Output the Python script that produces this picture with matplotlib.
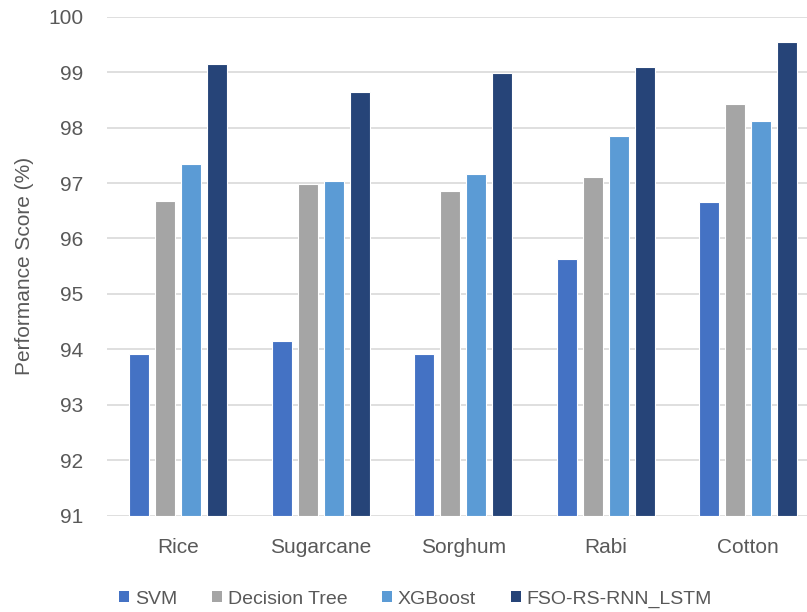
import numpy as np
import matplotlib.pyplot as plt
from matplotlib.patches import Patch

crops = ['Rice', 'Sugarcane', 'Sorghum', 'Rabi', 'Cotton']
svm = [93.92, 94.15, 93.92, 95.63, 96.66]
decision_tree = [96.68, 96.98, 96.85, 97.11, 98.43]
xgboost = [97.34, 97.03, 97.17, 97.84, 98.12]
fso_rs_rnn_lstm = [99.15, 98.64, 98.99, 99.10, 99.54]

series_names = ['SVM', 'Decision Tree', 'XGBoost', 'FSO-RS-RNN_LSTM']
colors = ['#4472C4', '#A5A5A5', '#5B9BD5', '#264478']

plt.rcParams['font.family'] = ['Liberation Sans', 'DejaVu Sans']

fig = plt.figure(figsize=(8.07, 6.12), dpi=100)
ax = fig.add_axes([107 / 807, 1 - 515.7 / 612, 712.5 / 807, 499 / 612])

x = np.arange(len(crops))
pitch = 0.1825
width = 0.137
for i, (name, vals) in enumerate(zip(series_names, [svm, decision_tree, xgboost, fso_rs_rnn_lstm])):
    ax.bar(x + (i - 1.5) * pitch, [v - 91 for v in vals], width, bottom=91,
           color=colors[i], edgecolor='white', linewidth=0.8, label=name, zorder=3)

ax.set_xlim(-0.5, 4.5)
ax.set_ylim(91, 100)
ax.set_yticks(range(91, 101))
ax.set_xticks(x)
ax.set_xticklabels(crops)
ax.tick_params(axis='both', length=0, labelsize=15, labelcolor='#595959')
ax.tick_params(axis='x', pad=16)
ax.tick_params(axis='y', pad=17)
ax.grid(axis='y', color='#D9D9D9', linewidth=1.2, zorder=0)
for s in ax.spines.values():
    s.set_visible(False)

ax.set_ylabel('Performance Score (%)', fontsize=15, color='#595959', labelpad=10)

handles = [Patch(facecolor=c, edgecolor='none') for c in colors]
fig.legend(handles, series_names, loc='lower center', bbox_to_anchor=(0.515, -0.022),
           ncol=4, frameon=False, fontsize=14, handlelength=0.5, handleheight=0.5,
           handletextpad=0.3, columnspacing=1.8, labelcolor='#595959')

fig.savefig('out.png', dpi=100)
